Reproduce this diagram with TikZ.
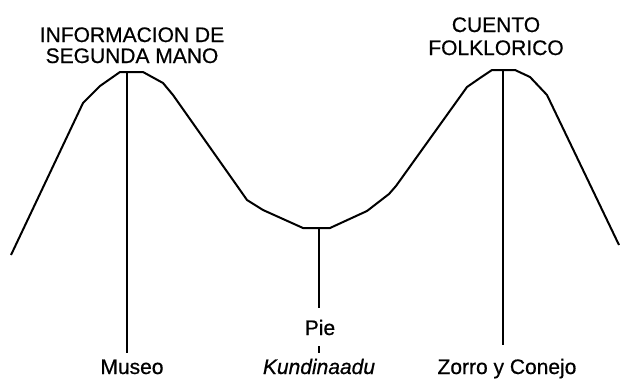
\documentclass[tikz,border=0pt]{standalone}
\usepackage{fontspec}
\setmainfont{Liberation Sans}
\begin{document}
\begin{tikzpicture}[x=1pt,y=-1pt,
  curve/.style={line width=2pt, line join=round},
  stem/.style={line width=2pt},
  lbl/.style={anchor=base, inner sep=0pt, font=\fontsize{21}{22}\selectfont\addfontfeature{FakeBold=0.6}}]
\useasboundingbox (0,0) rectangle (621,380);
% key points
\coordinate (ptop) at (127,72);
\coordinate (pbot) at (127,353);
\coordinate (vtop) at (319,228);
\coordinate (vbot) at (319,308);
\coordinate (qtop) at (503,70);
\coordinate (qbot) at (503,345);
\coordinate (tick1) at (319,346);
\coordinate (tick2) at (319,353);
% the curve
\draw[curve] (11,255) -- (83,103) -- (100,86) -- (120,72) -- (143,72) -- (163,83) -- (173,95)
  -- (240,190) -- (247,200) -- (263,210) -- (303,228) -- (330,228) -- (367,211) -- (389,194)
  -- (396,186) -- (467,87) -- (480,78) -- (492,70) -- (515,70) -- (530,77) -- (547,95) -- (619,245);
% stems
\draw[stem] (ptop) -- (pbot);
\draw[stem] (vtop) -- (vbot);
\draw[stem] (qtop) -- (qbot);
\draw[line width=1.6pt] (tick1) -- (tick2);
% labels
\node[lbl] (l1) at (132,42) {INFORMACION DE};
\node[lbl] (l2) at (132,63) {SEGUNDA MANO};
\node[lbl] (r1) at (496,32) {CUENTO};
\node[lbl] (r2) at (496,55) {FOLKLORICO};
\node[lbl] (museo) at (132,374) {Museo};
\node[lbl] (pie) at (320,335) {Pie};
\node[lbl] (kund) at (319,374) {\itshape Kundinaadu};
\node[lbl] (zorro) at (507,374) {Zorro y Conejo};
\end{tikzpicture}
\end{document}
